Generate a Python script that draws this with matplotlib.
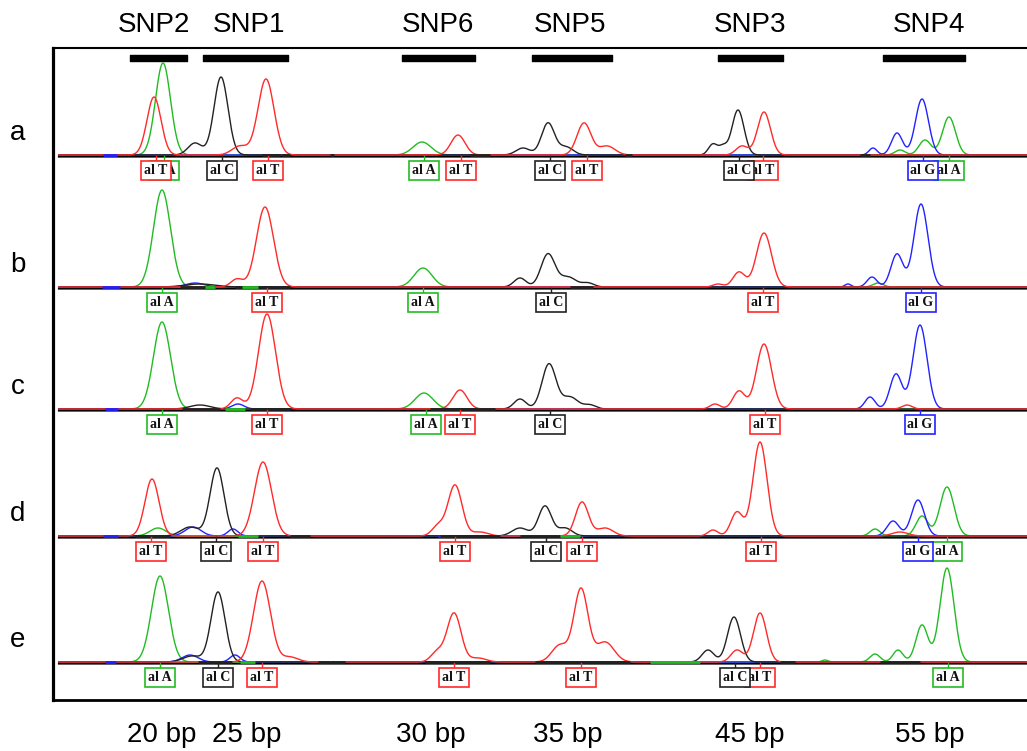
import numpy as np
import matplotlib

matplotlib.use("Agg")
import matplotlib.pyplot as plt
from matplotlib.patches import Rectangle

# dye channel -> trace colour
CHANNEL_COLORS = {"A": "#22bb22", "C": "#222222", "G": "#2222ff", "T": "#ff2a2a"}
CHANNEL_ORDER = ["A", "G", "C", "T"]

# sample rows (scan units ~ pixel columns, signal ~ pixel height)
ROW_NAMES = ["a", "b", "c", "d", "e"]
ROW_BASELINES = [155, 287, 409, 536, 662]

# peaks: (channel, scan position, height, width)
ROW_A_PEAKS = [
    ("C", 195, 12, 7), ("C", 221, 78, 7), ("C", 523, 7, 7), ("C", 548, 32, 6.5),
    ("C", 566, 8, 7), ("C", 713, 11, 4.5), ("C", 723, 8, 4), ("C", 738, 45, 6),
    ("T", 154, 58, 7), ("T", 240, 9, 8), ("T", 266, 76, 8), ("T", 458, 20, 7),
    ("T", 584, 32, 7), ("T", 607, 9, 8), ("T", 742, 9, 6), ("T", 764, 43, 6.5),
    ("A", 163, 92, 7.5), ("A", 422, 13, 9), ("A", 900, 5, 5), ("A", 925, 15, 6),
    ("A", 949, 38, 6.5),
    ("G", 873, 7, 4), ("G", 897, 22, 5.5), ("G", 922, 56, 6.5),
]
ROW_B_PEAKS = [
    ("A", 162, 97, 8.5), ("A", 423, 19, 9), ("A", 878, 4, 5),
    ("T", 237, 8, 6), ("T", 265, 80, 8.5), ("T", 718, 3, 5), ("T", 739, 15, 6),
    ("T", 764, 54, 7.5),
    ("C", 200, 3, 15), ("C", 520, 9, 6), ("C", 548, 33, 7), ("C", 568, 10, 8),
    ("C", 588, 4, 6),
    ("G", 195, 4, 9), ("G", 848, 3, 3), ("G", 872, 10, 5), ("G", 897, 33, 6),
    ("G", 921, 83, 7),
]
ROW_C_PEAKS = [
    ("A", 162, 87, 8.5), ("A", 424, 16, 9),
    ("T", 237, 11, 6), ("T", 267, 95, 8.5), ("T", 460, 19, 7), ("T", 715, 5, 5),
    ("T", 739, 18, 6), ("T", 764, 65, 7.5), ("T", 907, 4, 5),
    ("C", 200, 4, 10), ("C", 520, 10, 6), ("C", 549, 45, 7), ("C", 570, 12, 8),
    ("C", 590, 4, 6),
    ("G", 238, 5, 6), ("G", 870, 12, 5), ("G", 896, 35, 6), ("G", 920, 84, 7),
]
ROW_D_PEAKS = [
    ("T", 152, 57, 7), ("T", 263, 74, 8.5), ("T", 438, 10, 6), ("T", 455, 51, 7),
    ("T", 480, 4, 8), ("T", 582, 34, 6.5), ("T", 605, 8, 8), ("T", 713, 6, 5),
    ("T", 737, 24, 6), ("T", 760, 94, 7), ("T", 900, 4, 8),
    ("A", 158, 8, 8), ("A", 875, 7, 5), ("A", 922, 20, 6), ("A", 947, 49, 7),
    ("C", 190, 9, 9), ("C", 217, 68, 7), ("C", 520, 8, 8), ("C", 545, 30, 6.5),
    ("C", 565, 8, 7),
    ("G", 193, 9, 8), ("G", 233, 7, 5), ("G", 893, 15, 6), ("G", 918, 36, 6.5),
]
ROW_E_PEAKS = [
    ("A", 160, 86, 8.5), ("A", 825, 2, 3), ("A", 875, 8, 5), ("A", 898, 12, 5),
    ("A", 922, 37, 6), ("A", 947, 94, 7),
    ("C", 192, 6, 9), ("C", 218, 70, 7), ("C", 708, 12, 6), ("C", 734, 45, 6.5),
    ("G", 190, 7, 8), ("G", 235, 7, 5),
    ("T", 262, 81, 8.5), ("T", 290, 5, 8), ("T", 437, 10, 6), ("T", 454, 49, 7),
    ("T", 478, 4, 8), ("T", 560, 17, 8), ("T", 581, 73, 7), ("T", 605, 20, 9),
    ("T", 737, 12, 6), ("T", 760, 49, 6.5),
]
ROW_PEAKS = [ROW_A_PEAKS, ROW_B_PEAKS, ROW_C_PEAKS, ROW_D_PEAKS, ROW_E_PEAKS]

# short flat baseline segments of other dyes: (channel, start, end)
ROW_A_NOISE = [("G", 103, 117), ("C", 262, 280), ("C", 282, 290), ("C", 330, 334),
               ("C", 470, 490), ("C", 625, 632), ("C", 860, 870)]
ROW_B_NOISE = [("G", 102, 120), ("C", 180, 215), ("A", 205, 215), ("C", 235, 290),
               ("A", 242, 258), ("C", 570, 593)]
ROW_C_NOISE = [("G", 105, 118), ("C", 182, 220), ("A", 225, 245), ("C", 250, 290),
               ("C", 430, 495)]
ROW_D_NOISE = [("G", 103, 118), ("C", 135, 170), ("A", 238, 258), ("C", 290, 310),
               ("G", 438, 450), ("C", 440, 500), ("C", 520, 560), ("A", 560, 580)]
ROW_E_NOISE = [("G", 105, 116), ("C", 198, 232), ("A", 240, 255), ("C", 318, 330),
               ("C", 330, 345), ("C", 425, 490), ("C", 535, 630), ("A", 650, 700),
               ("C", 780, 795), ("C", 880, 920)]
ROW_NOISE = [ROW_A_NOISE, ROW_B_NOISE, ROW_C_NOISE, ROW_D_NOISE, ROW_E_NOISE]

# allele calls: (channel, scan position)
ROW_A_CALLS = [("T", 156), ("A", 164), ("C", 222), ("T", 268), ("A", 424), ("T", 461),
               ("C", 550), ("T", 587), ("C", 739), ("T", 763), ("G", 923), ("A", 949)]
ROW_B_CALLS = [("A", 162), ("T", 267), ("A", 423), ("C", 551), ("T", 763), ("G", 921)]
ROW_C_CALLS = [("A", 162), ("T", 267), ("A", 426), ("T", 460), ("C", 550), ("T", 765),
               ("G", 920)]
ROW_D_CALLS = [("T", 151), ("C", 216), ("T", 263), ("T", 455), ("C", 546), ("T", 582),
               ("T", 761), ("G", 918), ("A", 947)]
ROW_E_CALLS = [("A", 160), ("C", 218), ("T", 262), ("T", 454), ("T", 581), ("C", 735),
               ("T", 760), ("A", 948)]
ROW_CALLS = [ROW_A_CALLS, ROW_B_CALLS, ROW_C_CALLS, ROW_D_CALLS, ROW_E_CALLS]

# SNP regions along the top
SNP_NAMES = ["SNP2", "SNP1", "SNP6", "SNP5", "SNP3", "SNP4"]
SNP_LABEL_X = [154, 249, 438, 570, 750, 929]
SNP_BAR_START = [130, 203, 402, 532, 718, 883]
SNP_BAR_END = [187, 288, 475, 612, 783, 965]

# fragment sizes along the bottom
SIZE_LABELS = ["20 bp", "25 bp", "30 bp", "35 bp", "45 bp", "55 bp"]
SIZE_X = [162, 247, 431, 568, 750, 930]

scan = np.arange(59, 1027.5, 0.5)


def channel_trace(peaks, channel):
    y = np.zeros_like(scan)
    for ch, pos, height, width in peaks:
        if ch == channel:
            y += height * np.exp(-0.5 * ((scan - pos) / width) ** 2)
    return y


fig = plt.figure(figsize=(10.27, 7.51), dpi=100)
ax = fig.add_axes([53 / 1027, 51 / 751, 974 / 1027, 652 / 751])
ax.set_xlim(53, 1027)
ax.set_ylim(700, 48)
ax.set_xticks([])
ax.set_yticks([])
ax.spines["right"].set_visible(False)
ax.spines["left"].set_linewidth(2.3)
ax.spines["bottom"].set_linewidth(2.0)
ax.spines["top"].set_linewidth(1.5)

sans = ["Liberation Sans", "DejaVu Sans"]

for name, x, x0, x1 in zip(SNP_NAMES, SNP_LABEL_X, SNP_BAR_START, SNP_BAR_END):
    ax.text(x, 25, name, ha="center", va="center", fontsize=20, family=sans, clip_on=False)
    ax.broken_barh([(x0, x1 - x0)], (55, 6), color="black")

for label, x in zip(SIZE_LABELS, SIZE_X):
    ax.text(x, 735, label, ha="center", va="center", fontsize=20, family=sans, clip_on=False)

for name, base, peaks, noise, calls in zip(ROW_NAMES, ROW_BASELINES, ROW_PEAKS,
                                           ROW_NOISE, ROW_CALLS):
    ax.text(18, base - 22, name, ha="center", va="center", fontsize=20, family=sans,
            clip_on=False)
    ax.plot(scan, np.full_like(scan, base + 1.5), color="black", lw=1.6, zorder=2)
    for ch in CHANNEL_ORDER:
        ax.plot(scan, base - channel_trace(peaks, ch), color=CHANNEL_COLORS[ch],
                lw=1.0, zorder=3)
    for ch, x0, x1 in noise:
        ax.plot([x0, x1], [base - 0.5, base - 0.5], color=CHANNEL_COLORS[ch],
                lw=2.0, solid_capstyle="butt", zorder=4)
    for ch, x in calls:
        color = CHANNEL_COLORS[ch]
        z = 10 + (1100 - x) / 1000
        ax.plot([x, x], [base + 1, base + 6], color=color, lw=1.0, zorder=z)
        ax.add_patch(Rectangle((x - 15, base + 6), 30, 19, facecolor="white",
                               edgecolor=color, lw=1.2, zorder=z))
        ax.text(x, base + 15.5, f"al {ch}", ha="center", va="center", fontsize=10,
                fontweight="bold", family=["Liberation Serif", "DejaVu Serif"],
                color="#111111", zorder=z)

fig.savefig("out.png", dpi=100)
